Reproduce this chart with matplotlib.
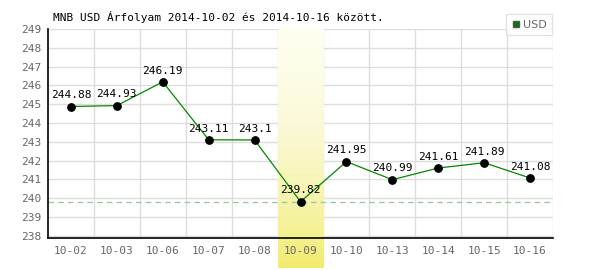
import matplotlib
matplotlib.use("Agg")
import matplotlib.pyplot as plt
import numpy as np
from matplotlib.colors import LinearSegmentedColormap

dates = ["10-02", "10-03", "10-06", "10-07", "10-08", "10-09",
         "10-10", "10-13", "10-14", "10-15", "10-16"]
values = [244.88, 244.93, 246.19, 243.11, 243.1, 239.82,
          241.95, 240.99, 241.61, 241.89, 241.08]
value_labels = ["244.88", "244.93", "246.19", "243.11", "243.1", "239.82",
                "241.95", "240.99", "241.61", "241.89", "241.08"]
yticks = list(range(238, 250))
title = "MNB USD Árfolyam 2014-10-02 és 2014-10-16 között."
series_name = "USD"
highlight = "10-09"

mono = "DejaVu Sans Mono"
fig = plt.figure(figsize=(6, 2.7), dpi=100)
ax = fig.add_axes([48/600, 1-238/270, 505/600, 209/270])
ax.set_facecolor("none")

n = len(dates)
x = np.arange(n)
ax.set_xlim(-0.5, n - 0.5)
ymin, ymax = 237.89, 249
ax.set_ylim(ymin, ymax)

# grid
for yv in yticks:
    ax.axhline(yv, color="#dddddd", lw=1, zorder=0)
for i in range(1, n + 1):
    ax.axvline(i - 0.5, color="#dddddd", lw=1, zorder=0)

# highlight gradient
hi = dates.index(highlight)
cmap = LinearSegmentedColormap.from_list("g", ["#f0ec6a", "#f6f3a8", "#fbf9d8", "#fffff2"])
grad = (np.linspace(0, 1, 256) ** 0.8).reshape(-1, 1)
ppu = 209 / (ymax - ymin)
ybot = ymin - (268 - 238) / ppu
ax.imshow(grad, cmap=cmap, aspect="auto", origin="lower",
          extent=(hi - 0.5, hi + 0.5, ybot, ymax), zorder=0.5, clip_on=False)

# min dashed line
ax.axhline(min(values), color="#99cc99", lw=1, ls=(0, (4, 3)), zorder=1)

ax.plot(x, values, color="#008800", lw=0.9, zorder=2)
ax.scatter(x, values, s=28, color="black", zorder=3)
for xi, v, lab in zip(x, values, value_labels):
    ax.annotate(lab, (xi, v), xytext=(0, 4.5), textcoords="offset points",
                ha="center", va="bottom", fontsize=8, family=mono, color="black", zorder=4)

ax.set_xticks(x)
ax.set_xticklabels(dates, family=mono, fontsize=8, color="#666666")
ax.set_yticks(yticks)
ax.set_yticklabels([str(t) for t in yticks], family=mono, fontsize=8, color="#666666")
ax.tick_params(length=0, pad=6)
ax.tick_params(axis="y", pad=5)
for s in ["top", "right"]:
    ax.spines[s].set_visible(False)
ax.spines["left"].set_linewidth(1.2)
ax.spines["bottom"].set_linewidth(1.2)

fig.text(53/600, 1-17/270, title, family=mono, fontsize=8, color="black", va="center", ha="left")

# legend box
leg = ax.legend([plt.Line2D([], [], marker="s", ls="none", color="#008000",
                            markeredgecolor="#555555", markersize=5)],
                [series_name], loc="upper right", bbox_to_anchor=(552/600, 1-14/270),
                bbox_transform=fig.transFigure, frameon=True, fancybox=False,
                prop={"size": 8, "family": "Liberation Sans Narrow"}, handletextpad=0.2,
                borderpad=0.5, handlelength=0.8, borderaxespad=0)
leg.get_frame().set_edgecolor("#dddddd")
leg.get_frame().set_linewidth(1)
for t in leg.get_texts():
    t.set_color("#666666")

fig.savefig("out.png", dpi=100)
